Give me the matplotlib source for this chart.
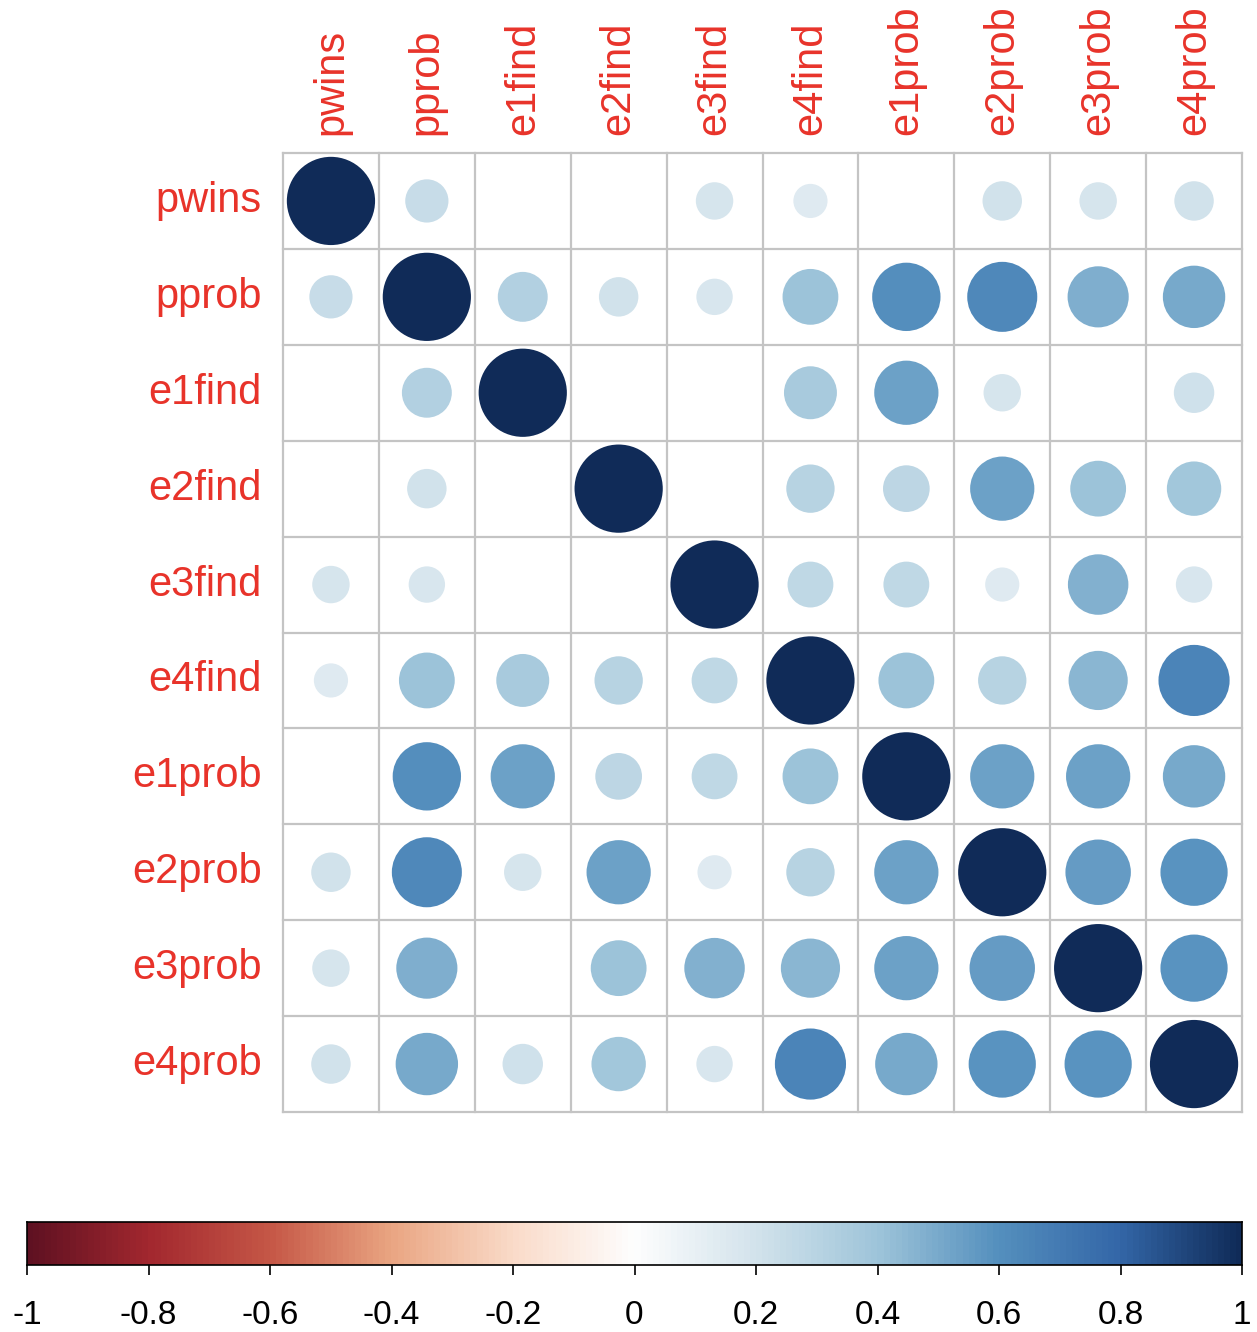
import numpy as np
import matplotlib
matplotlib.use("Agg")
import matplotlib.pyplot as plt
from matplotlib.colors import LinearSegmentedColormap, Normalize
from matplotlib.patches import Circle

plt.rcParams['font.family'] = ['Liberation Sans', 'DejaVu Sans']

nan = np.nan
labels = ['pwins', 'pprob', 'e1find', 'e2find', 'e3find',
          'e4find', 'e1prob', 'e2prob', 'e3prob', 'e4prob']

# correlation values (blank cells = nan)
pwins  = [1.00, 0.24, nan,  nan,  0.18, 0.15, nan,  0.20, 0.18, 0.20]
pprob  = [0.24, 1.00, 0.32, 0.20, 0.17, 0.40, 0.60, 0.63, 0.48, 0.50]
e1find = [nan,  0.32, 1.00, nan,  nan,  0.36, 0.53, 0.18, nan,  0.21]
e2find = [nan,  0.20, nan,  1.00, nan,  0.30, 0.28, 0.53, 0.40, 0.38]
e3find = [0.18, 0.17, nan,  nan,  1.00, 0.27, 0.27, 0.15, 0.47, 0.17]
e4find = [0.15, 0.40, 0.36, 0.30, 0.27, 1.00, 0.40, 0.30, 0.45, 0.65]
e1prob = [nan,  0.60, 0.53, 0.28, 0.27, 0.40, 1.00, 0.53, 0.53, 0.50]
e2prob = [0.20, 0.63, 0.18, 0.53, 0.15, 0.30, 0.53, 1.00, 0.55, 0.58]
e3prob = [0.18, 0.48, nan,  0.40, 0.47, 0.45, 0.53, 0.55, 1.00, 0.58]
e4prob = [0.20, 0.50, 0.21, 0.38, 0.17, 0.65, 0.50, 0.58, 0.58, 1.00]

corr = np.array([pwins, pprob, e1find, e2find, e3find,
                 e4find, e1prob, e2prob, e3prob, e4prob])

cbar_ticks = [-1, -0.8, -0.6, -0.4, -0.2, 0, 0.2, 0.4, 0.6, 0.8, 1]

# muted red-blue palette as seen in the picture
cmap = LinearSegmentedColormap.from_list('corrRdBu', [
    "#5f1122", "#a3282f", "#c65847", "#eaa683", "#fadbc9", "#fefefe",
    "#d3e3ec", "#9fc5da", "#5590be", "#3467a8", "#102b58"], N=200)
norm = Normalize(vmin=-1, vmax=1)

W, H = 1257, 1332
fig = plt.figure(figsize=(W / 100, H / 100), dpi=100)

def px_axes(x0, y0, x1, y1):
    return fig.add_axes([x0 / W, 1 - y1 / H, (x1 - x0) / W, (y1 - y0) / H])

n = len(labels)
ax = px_axes(283, 153, 1242, 1112)
ax.set_xlim(0, n)
ax.set_ylim(n, 0)
ax.axis('off')

for i in range(n):
    for j in range(n):
        v = corr[i, j]
        if np.isnan(v):
            continue
        r = 0.46 * np.sqrt(abs(v))
        ax.add_patch(Circle((j + 0.5, i + 0.5), r, facecolor=cmap(norm(v)),
                            edgecolor='none', zorder=2))

grid_col = '#c4c4c4'
for k in range(n + 1):
    ax.plot([k, k], [0, n], color=grid_col, lw=1.6, zorder=1, clip_on=False)
    ax.plot([0, n], [k, k], color=grid_col, lw=1.6, zorder=1, clip_on=False)

lab_col = '#e8332a'
for k, name in enumerate(labels):
    ax.text(-0.22, k + 0.5, name, ha='right', va='center',
            fontsize=30, color=lab_col)
    ax.text(k + 0.5, -0.19, name, ha='center', va='bottom', rotation=90,
            fontsize=30, color=lab_col)

# colour bar
cax = px_axes(27, 1222, 1242, 1265)
grad = np.linspace(-1, 1, 400).reshape(1, -1)
cax.imshow(grad, cmap=cmap, norm=norm, aspect='auto', extent=[-1, 1, 0, 1])
cax.set_xlim(-1, 1)
cax.set_yticks([])
cax.set_xticks(cbar_ticks)
cax.set_xticklabels([f'{t:g}' for t in cbar_ticks], fontsize=24)
cax.tick_params(axis='x', length=7, width=1.2, pad=18)
for s in cax.spines.values():
    s.set_linewidth(1.2)

fig.savefig('out.png', dpi=100)
